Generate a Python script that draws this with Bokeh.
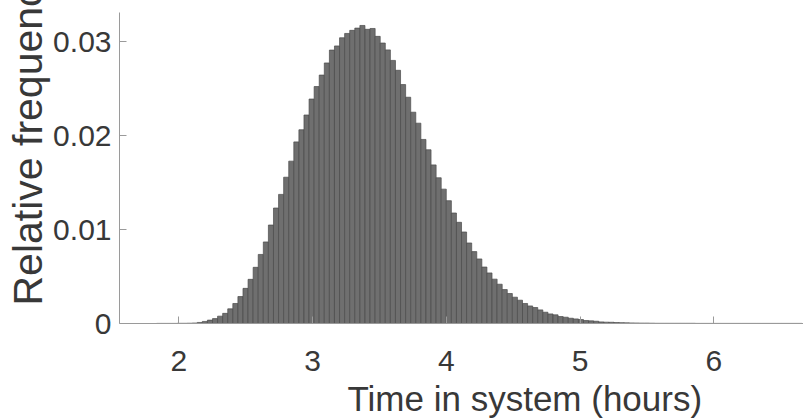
from bokeh.embed import file_html
from bokeh.models import ColumnDataSource, FixedTicker, Range1d, Title
from bokeh.plotting import figure
from bokeh.resources import INLINE

# Histogram of simulated time in system: bins of equal width
BIN_START = 1.834   # hours, left edge of the first bin
BIN_WIDTH = 0.038   # hours

# Relative frequency of each bin (probability normalisation)
rel_freq = [
    0.00001, 0.00001, 0.00001, 0.00001, 0.00002, 0.00002, 0.00003, 0.00005,
    0.00011, 0.00022, 0.00036, 0.00052, 0.00078, 0.00108, 0.00156, 0.00213,
    0.00287, 0.00374, 0.00470, 0.00598, 0.00735, 0.00868, 0.01048, 0.01229,
    0.01374, 0.01557, 0.01728, 0.01933, 0.02062, 0.02219, 0.02389, 0.02522,
    0.02644, 0.02773, 0.02910, 0.02954, 0.03041, 0.03087, 0.03120, 0.03144,
    0.03172, 0.03131, 0.03140, 0.03056, 0.02985, 0.02912, 0.02800, 0.02695,
    0.02543, 0.02408, 0.02249, 0.02132, 0.01959, 0.01849, 0.01688, 0.01551,
    0.01430, 0.01307, 0.01176, 0.01077, 0.00974, 0.00857, 0.00765, 0.00687,
    0.00601, 0.00538, 0.00472, 0.00418, 0.00361, 0.00319, 0.00280, 0.00248,
    0.00213, 0.00187, 0.00170, 0.00145, 0.00120, 0.00102, 0.00092, 0.00074,
    0.00067, 0.00056, 0.00049, 0.00042, 0.00032, 0.00028, 0.00024, 0.00017,
    0.00014, 0.00013, 0.00010, 0.00009, 0.00007, 0.00006, 0.00005, 0.00004,
    0.00004, 0.00003, 0.00002, 0.00002, 0.00002, 0.00002, 0.00002, 0.00002,
    0.00002, 0.00002, 0.00001, 0.00001, 0.00001, 0.00001, 0.00001, 0.00001,
    0.00001, 0.00001, 0.00001, 0.00001, 0.00001, 0.00001, 0.00001, 0.00001,
    0.00001, 0.00001, 0.00001, 0.00001, 0.00001, 0.00001, 0.00001,
]

x_ticks = [2, 3, 4, 5, 6]
y_ticks = [0, 0.01, 0.02, 0.03]
y_tick_labels = ["0", "0.01", "0.02", "0.03"]

x_label = "Time in system (hours)"
y_label = "Relative frequency"

X_MIN, X_MAX = 1.5566, 6.671
Y_MIN, Y_MAX = 0.0, 0.0331

lefts = [BIN_START + i * BIN_WIDTH for i in range(len(rel_freq))]
rights = [l + BIN_WIDTH for l in lefts]
src = ColumnDataSource(dict(left=lefts, right=rights, top=rel_freq,
                            bottom=[0.0] * len(rel_freq)))

FONT = "Liberation Sans"
TEXT_COLOR = "#383838"
AXIS_COLOR = "#9a9a9a"

p = figure(width=803, height=419, output_backend="svg", toolbar_location=None,
           x_range=Range1d(X_MIN, X_MAX), y_range=Range1d(Y_MIN, Y_MAX),
           min_border_left=119, min_border_right=0, min_border_top=12,
           min_border_bottom=96)
p.outline_line_color = None
p.xgrid.visible = False
p.ygrid.visible = False
p.background_fill_color = "white"
p.border_fill_color = "white"

p.quad(left="left", right="right", top="top", bottom="bottom", source=src,
       fill_color="#6f6f6f", line_color="#4a4a4a", line_width=0.7)

for ax in (p.xaxis[0], p.yaxis[0]):
    ax.axis_line_color = AXIS_COLOR
    ax.axis_line_width = 1
    ax.major_tick_line_color = AXIS_COLOR
    ax.major_tick_in = 7
    ax.major_tick_out = 0
    ax.minor_tick_line_color = None
    ax.major_label_text_font = FONT
    ax.major_label_text_font_size = "30px"
    ax.major_label_text_color = TEXT_COLOR

p.xaxis.ticker = FixedTicker(ticks=x_ticks)
p.xaxis.major_label_standoff = 27
p.yaxis.ticker = FixedTicker(ticks=y_ticks)
p.yaxis.major_label_overrides = {t: s for t, s in zip(y_ticks, y_tick_labels)}
p.yaxis.major_label_standoff = 8

# blank strip between the tick labels and the x-axis title
p.add_layout(Title(text=" ", text_font_size="1px", standoff=2), "below")
# axis titles, placed as side panels so they sit outside the plot frame
p.add_layout(Title(text=x_label, align="left", offset=228, standoff=-4,
                   text_font=FONT, text_font_size="35px",
                   text_font_style="normal", text_color=TEXT_COLOR), "below")
p.add_layout(Title(text=y_label, align="left", offset=18, standoff=0,
                   text_font=FONT, text_font_size="41px",
                   text_font_style="normal", text_color=TEXT_COLOR), "left")

open("out.html", "w").write(file_html(p, INLINE))
